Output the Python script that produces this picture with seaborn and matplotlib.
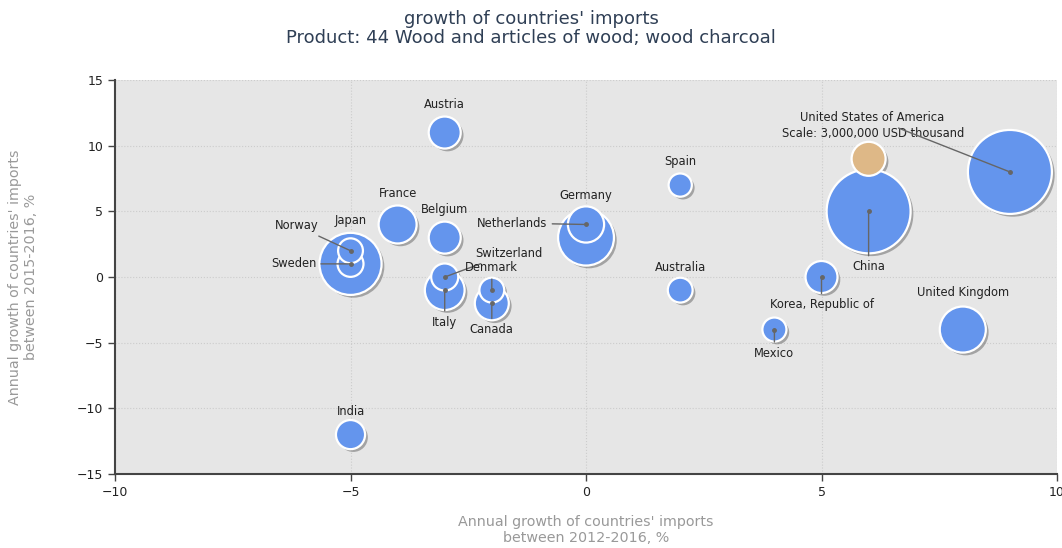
import pandas as pd
import numpy as np
import matplotlib.pyplot as plt
import matplotlib.patheffects as pe
import seaborn as sns

# --- data ---
countries = ["United States of America", "China", "Germany", "Japan", "United Kingdom",
             "Italy", "France", "Netherlands", "Canada", "Korea, Republic of",
             "Austria", "Belgium", "India", "Switzerland", "Sweden",
             "Australia", "Norway", "Denmark", "Mexico", "Spain"]
growth_2012_2016 = [9, 6, 0, -5, 8, -3, -4, 0, -2, 5, -3, -3, -5, -3, -5, 2, -5, -2, 4, 2]
growth_2015_2016 = [8, 5, 3, 1, -4, -1, 4, 4, -2, 0, 11, 3, -12, 0, 1, -1, 2, -1, -4, 7]
imports_usd_thousand = [18300000, 18300000, 8100000, 10000000, 5500000,
                        4100000, 3750000, 3400000, 3000000, 2660000,
                        2660000, 2660000, 2200000, 1900000, 1750000,
                        1600000, 1600000, 1600000, 1500000, 1400000]

scale_value = 3000000
scale_label = "Scale: 3,000,000 USD thousand"
scale_pos = (6, 9)

df = pd.DataFrame({"country": countries, "x": growth_2012_2016, "y": growth_2015_2016,
                   "value": imports_usd_thousand, "kind": "country"})
scale_row = pd.DataFrame({"country": ["scale"], "x": [scale_pos[0]], "y": [scale_pos[1]],
                          "value": [scale_value], "kind": ["scale"]})
df = pd.concat([df, scale_row], ignore_index=True)
df = df.sort_values("value", ascending=False)

# label offsets (points) and whether a leader line is drawn
label_style = {
    "United States of America": (-99, 39, True),
    "China": (0, -40, True),
    "Germany": (0, 30, False),
    "Japan": (0, 31, False),
    "United Kingdom": (0, 27, False),
    "Italy": (0, -23, True),
    "France": (0, 22, False),
    "Netherlands": (-53, 1, True),
    "Canada": (0, -19, True),
    "Korea, Republic of": (0, -20, True),
    "Austria": (0, 20, False),
    "Belgium": (0, 20, False),
    "India": (0, 17, False),
    "Switzerland": (46, 17, True),
    "Sweden": (-41, 0, True),
    "Australia": (0, 16, False),
    "Norway": (-39, 18, True),
    "Denmark": (0, 16, True),
    "Mexico": (0, -17, True),
    "Spain": (0, 17, False),
}

sns.set_style("whitegrid")
plt.rcParams['font.family'] = ['DejaVu Sans']

fig, ax = plt.subplots(figsize=(10.62, 5.48), dpi=100)
fig.subplots_adjust(left=0.1083, right=0.9953, top=0.854, bottom=0.135)
ax.set_facecolor("#e6e6e6")

# marker area proportional to value: r=17px for 3,000,000
s_per_value = (1.44 * 17) ** 2 / scale_value
vmax = df["value"].max()
sns.scatterplot(data=df, x="x", y="y", hue="kind", size="value",
                sizes=(0, s_per_value * vmax), size_norm=(0, vmax),
                palette={"country": "#6495ed", "scale": "#deb887"},
                edgecolor="white", linewidth=1.6, alpha=1, legend=False, ax=ax,
                zorder=3)
for coll in ax.collections:
    coll.set_path_effects([pe.SimplePatchShadow(offset=(2, -2), shadow_rgbFace="#777777", alpha=0.6),
                           pe.Normal()])

# labels
for _, row in df.iterrows():
    if row["kind"] != "country":
        continue
    dx, dy, line = label_style[row["country"]]
    ax.annotate(row["country"], (row["x"], row["y"]), xytext=(dx, dy),
                textcoords="offset points", ha="center", va="center", fontsize=8.3,
                color="#222222", zorder=5,
                arrowprops=dict(arrowstyle="-", color="#666666", lw=1,
                                shrinkA=1, shrinkB=0) if line else None)
    if line:
        ax.plot(row["x"], row["y"], "o", ms=2.5, color="#666666", zorder=4)

ax.annotate(scale_label, scale_pos, xytext=(3, 18), textcoords="offset points",
            ha="center", va="center", fontsize=8.3, color="#222222")

ax.set_xlim(-10, 10)
ax.set_ylim(-15, 15)
ax.set_xticks(np.arange(-10, 11, 5))
ax.set_yticks(np.arange(-15, 16, 5))
ax.grid(True, color="#cccccc", linestyle=":", linewidth=0.8)
for side in ["top", "right"]:
    ax.spines[side].set_visible(False)
for side in ["left", "bottom"]:
    ax.spines[side].set_visible(True)
    ax.spines[side].set_color("#444444")
    ax.spines[side].set_linewidth(1.5)
ax.tick_params(axis="both", direction="out", length=5, width=1, color="#444444",
               labelsize=9, labelcolor="#222222", left=True, bottom=True)

ax.set_xlabel("Annual growth of countries' imports\nbetween 2012-2016, %",
              fontsize=10.3, color="#999999", linespacing=1.15)
ax.xaxis.set_label_coords(0.5, -0.105)
ax.set_ylabel("Annual growth of countries' imports\nbetween 2015-2016, %",
              fontsize=10.3, color="#999999", linespacing=1.15)
ax.yaxis.set_label_coords(-0.082, 0.5)

fig.suptitle("growth of countries' imports\nProduct: 44 Wood and articles of wood; wood charcoal",
             fontsize=13, color="#2f3f55", y=0.982, linespacing=1.05)

plt.savefig("out.png", dpi=100)
